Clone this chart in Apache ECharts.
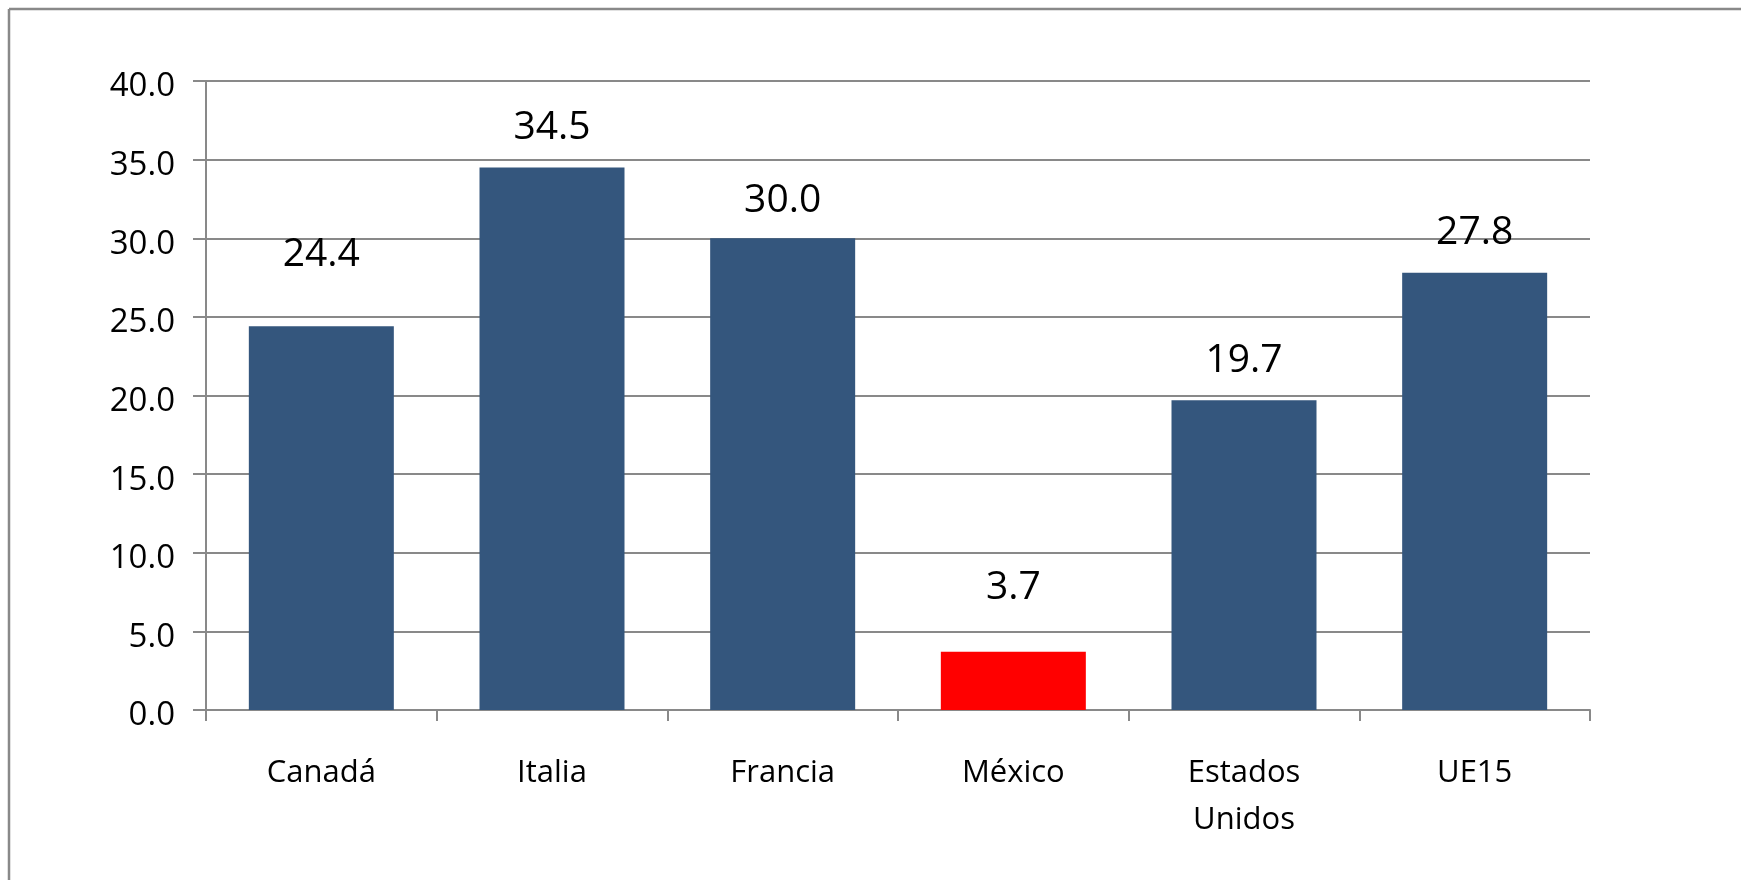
<!DOCTYPE html>
<html>
<head>
<meta charset="utf-8">
<script src="https://cdn.jsdelivr.net/npm/echarts@6/dist/echarts.min.js"></script>
<style>
html,body{margin:0;padding:0;background:#fff;}
#chart{width:1741px;height:880px;}
</style>
</head>
<body>
<div id="chart"></div>
<script>
// ---- data ----
const categories = ['Canadá', 'Italia', 'Francia', 'México', 'Estados\nUnidos', 'UE15'];
const values = [24.4, 34.5, 30.0, 3.7, 19.7, 27.8];
const yTicks = [0, 5, 10, 15, 20, 25, 30, 35, 40];

// ---- style ----
const FONT = '"Open Sans", "Noto Sans", sans-serif';
const BLUE = '#34567D';
const RED = '#FF0000';
const GRAY = '#898989';
const highlight = 'México';
const labelDistance = { 'Canadá': 52, 'Francia': 18, 'México': 44 };

const chart = echarts.init(document.getElementById('chart'), null, { renderer: 'canvas' });

const seriesData = values.map((v, i) => {
  const c = categories[i];
  return {
    value: v,
    itemStyle: { color: c === highlight ? RED : BLUE },
    label: { distance: labelDistance[c] !== undefined ? labelDistance[c] : 20 }
  };
});

chart.setOption({
  animation: false,
  backgroundColor: '#ffffff',
  grid: { left: 206, right: 151, top: 81, bottom: 170, containLabel: false },
  graphic: [
    { type: 'line', shape: { x1: 9, y1: 9, x2: 1741, y2: 9 }, style: { stroke: GRAY, lineWidth: 2.5 } },
    { type: 'line', shape: { x1: 9, y1: 9, x2: 9, y2: 880 }, style: { stroke: GRAY, lineWidth: 2.5 } }
  ],
  xAxis: {
    type: 'category',
    data: categories,
    boundaryGap: true,
    axisLine: { show: true, lineStyle: { color: GRAY, width: 2 } },
    axisTick: { show: true, length: 11, inside: false, lineStyle: { color: GRAY, width: 2 } },
    axisLabel: {
      interval: 0, margin: 40, color: '#000', fontFamily: FONT, fontSize: 31, lineHeight: 47
    },
    splitLine: { show: false }
  },
  yAxis: {
    type: 'value',
    min: yTicks[0],
    max: yTicks[yTicks.length - 1],
    interval: yTicks[1] - yTicks[0],
    axisLine: { show: true, lineStyle: { color: GRAY, width: 2 } },
    axisTick: { show: true, length: 13, lineStyle: { color: GRAY, width: 2 } },
    axisLabel: {
      margin: 31, color: '#000', fontFamily: FONT, fontSize: 33,
      verticalAlign: 'top', lineHeight: 12,
      formatter: v => v.toFixed(1)
    },
    splitLine: { show: true, lineStyle: { color: GRAY, width: 2 } }
  },
  series: [{
    type: 'bar',
    data: seriesData,
    barWidth: 145,
    label: {
      show: true, position: 'top', color: '#000', fontFamily: FONT, fontSize: 39,
      formatter: p => p.value.toFixed(1)
    }
  }]
});
</script>
</body>
</html>
